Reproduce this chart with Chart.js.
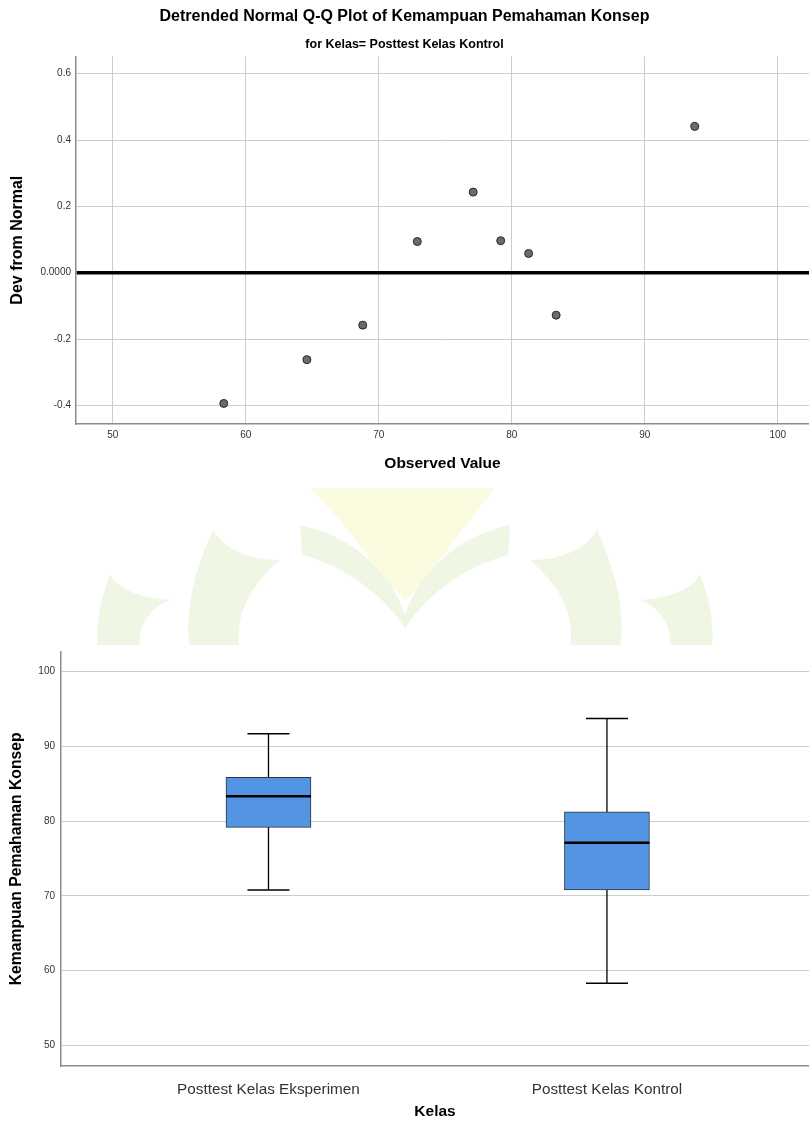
<!DOCTYPE html>
<html lang="en">
<head>
    <meta charset="UTF-8">
    <title>Detrended Normal Q-Q Plot and Boxplot</title>
    <script src="https://cdn.jsdelivr.net/npm/chart.js"></script>
    <style>
        body { margin: 0; background: #fff; }
        .page { position: relative; width: 809px; height: 1123px; overflow: hidden; }
        .page canvas { position: absolute; left: 0; }
        #qqChart { top: 0; }
        #boxChart { top: 645px; background: #fff; }
        #mark { position: absolute; left: 0; top: 480px; }
    </style>
</head>
<body>
<div class="page">
    <!-- faint logo watermark between the two charts -->
    <svg id="mark" width="809" height="170" viewBox="0 480 809 170">
        <path d="M310 488 L495 488 L470 520 L420 585 L405 600 L390 585 L340 520 Z" fill="#fbfbdf"/>
        <path d="M300 525 C350 535 390 570 405 615 C420 570 460 535 510 525 L508 555 C470 565 430 590 405 628 C380 590 340 565 302 555 Z" fill="#f0f6e4"/>
        <path d="M213 530 C190 580 185 620 190 650 L240 650 C235 620 245 590 280 560 C250 560 225 550 213 530 Z" fill="#f0f6e4"/>
        <path d="M597 530 C620 580 625 620 620 650 L570 650 C575 620 565 590 530 560 C560 560 585 550 597 530 Z" fill="#f0f6e4"/>
        <path d="M110 575 C98 605 96 630 98 650 L140 650 C138 630 145 610 170 600 C140 598 120 590 110 575 Z" fill="#f0f6e4"/>
        <path d="M700 575 C712 605 714 630 712 650 L670 650 C672 630 665 610 640 600 C670 598 690 590 700 575 Z" fill="#f0f6e4"/>
    </svg>
    <canvas id="qqChart" width="809" height="490"></canvas>
    <canvas id="boxChart" width="809" height="478"></canvas>
</div>

<script>
    // ---- data: detrended Q-Q plot ----
    const qqObserved  = [58.35, 64.6, 68.8, 72.9, 77.1, 79.17, 81.27, 83.34, 93.76];
    const qqDeviation = [-0.394, -0.262, -0.158, 0.094, 0.243, 0.0965, 0.058, -0.128, 0.441];
    const qqXTicks = [50, 60, 70, 80, 90, 100];
    const qqYTicks = [-0.4, -0.2, 0, 0.2, 0.4, 0.6];

    // ---- data: boxplot ----
    const boxCategories = ['Posttest Kelas Eksperimen', 'Posttest Kelas Kontrol'];
    const boxMin    = [70.8, 58.3];
    const boxQ1     = [79.16, 70.8];
    const boxMedian = [83.35, 77.1];
    const boxQ3     = [85.85, 81.25];
    const boxMax    = [91.69, 93.75];
    const boxYTicks = [50, 60, 70, 80, 90, 100];

    const FONT = "'Liberation Sans', Arial, sans-serif";
    const GRID = '#cccccc';
    const AXIS = '#8c8c8c';
    const TICK_TEXT = '#333333';

    Chart.defaults.font.family = FONT;
    Chart.defaults.animation = false;

    function fixTicks(values) {
        return function (scale) {
            scale.ticks = values.map(v => ({ value: v }));
        };
    }

    // keep the axis box at a fixed size and drop label overflow padding
    function fixBox(size) {
        return function (scale) {
            if (scale.isHorizontal()) scale.height = size;
            else scale.width = size;
            scale.paddingLeft = scale.paddingRight = 0;
            scale.paddingTop = scale.paddingBottom = 0;
        };
    }

    // Detrended Q-Q plot
    new Chart(document.getElementById('qqChart'), {
        type: 'scatter',
        data: {
            datasets: [{
                data: qqObserved.map((x, i) => ({ x: x, y: qqDeviation[i] })),
                backgroundColor: '#6b6b6b',
                borderColor: '#262626',
                borderWidth: 1,
                pointRadius: 4
            }]
        },
        options: {
            responsive: false,
            events: [],
            layout: { padding: 0, autoPadding: false },
            plugins: {
                legend: { display: false },
                tooltip: { enabled: false },
                title: {
                    display: true,
                    text: 'Detrended Normal Q-Q Plot of Kemampuan Pemahaman Konsep',
                    color: '#000',
                    font: { size: 16, weight: 'bold' },
                    padding: { top: 7.4, bottom: 0 }
                },
                subtitle: {
                    display: true,
                    text: 'for Kelas= Posttest Kelas Kontrol',
                    color: '#000',
                    font: { size: 12.5, weight: 'bold' },
                    padding: { top: 10.7, bottom: 4.1 }
                }
            },
            scales: {
                x: {
                    type: 'linear',
                    min: 47.24,
                    max: 102.35,
                    afterBuildTicks: fixTicks(qqXTicks),
                    afterFit: fixBox(66),
                    grid: { color: GRID, drawTicks: false },
                    border: { color: AXIS, width: 1.5 },
                    ticks: { color: TICK_TEXT, font: { size: 10 }, padding: 5 },
                    title: {
                        display: true,
                        text: 'Observed Value',
                        color: '#000',
                        font: { size: 15.5, weight: 'bold' },
                        padding: { bottom: 16.7 }
                    }
                },
                y: {
                    min: -0.456,
                    max: 0.652,
                    afterBuildTicks: fixTicks(qqYTicks),
                    afterFit: fixBox(76),
                    grid: {
                        drawTicks: false,
                        color: c => (c.tick && c.tick.value === 0) ? '#000' : GRID,
                        lineWidth: c => (c.tick && c.tick.value === 0) ? 3.5 : 1
                    },
                    border: { color: AXIS, width: 1.5 },
                    ticks: {
                        color: TICK_TEXT,
                        font: { size: 10 },
                        padding: 5,
                        callback: v => v === 0 ? '0.0000' : v.toFixed(1)
                    },
                    title: {
                        display: true,
                        text: 'Dev from Normal',
                        color: '#000',
                        font: { size: 16, weight: 'bold' },
                        padding: { top: 8 }
                    }
                }
            }
        }
    });

    // Boxplot: floating bars for the boxes, lines for whiskers, line points for caps and medians
    const pos = boxCategories.map((c, i) => i + 1);

    new Chart(document.getElementById('boxChart'), {
        type: 'bar',
        data: {
            datasets: [
                {
                    type: 'scatter',
                    order: 0,
                    data: pos.map((p, i) => ({ x: p, y: boxMedian[i] })),
                    pointStyle: 'line',
                    pointRadius: 42.5,
                    borderColor: '#000',
                    borderWidth: 2.5
                },
                {
                    type: 'scatter',
                    order: 1,
                    data: pos.flatMap((p, i) => [{ x: p, y: boxMin[i] }, { x: p, y: boxMax[i] }]),
                    pointStyle: 'line',
                    pointRadius: 21,
                    borderColor: '#000',
                    borderWidth: 1.5
                },
                {
                    type: 'bar',
                    order: 2,
                    data: pos.map((p, i) => ({ x: p, y: [boxQ1[i], boxQ3[i]] })),
                    backgroundColor: '#5394e3',
                    borderColor: '#2b3440',
                    borderWidth: 1,
                    borderSkipped: false,
                    barThickness: 85
                },
                {
                    type: 'line',
                    order: 3,
                    data: pos.flatMap((p, i) => [
                        { x: p, y: boxMin[i] }, { x: p, y: boxMax[i] }, { x: p, y: null }
                    ]),
                    borderColor: '#000',
                    borderWidth: 1.3,
                    pointRadius: 0,
                    spanGaps: false,
                    fill: false
                }
            ]
        },
        options: {
            responsive: false,
            events: [],
            layout: { padding: { top: 6.7, left: 0, right: 0, bottom: 0 }, autoPadding: false },
            plugins: {
                legend: { display: false },
                tooltip: { enabled: false }
            },
            scales: {
                x: {
                    type: 'linear',
                    min: 0.387,
                    max: 2.597,
                    offset: false,
                    afterBuildTicks: fixTicks(pos),
                    afterFit: fixBox(57),
                    grid: { display: false },
                    border: { color: AXIS, width: 1.5 },
                    ticks: {
                        color: TICK_TEXT,
                        font: { size: 15.3 },
                        padding: 7,
                        callback: v => boxCategories[v - 1] || ''
                    },
                    title: {
                        display: true,
                        text: 'Kelas',
                        color: '#000',
                        font: { size: 15.5, weight: 'bold' },
                        padding: { bottom: 2 }
                    }
                },
                y: {
                    min: 47.23,
                    max: 102.68,
                    afterBuildTicks: fixTicks(boxYTicks),
                    afterFit: fixBox(61),
                    grid: { color: GRID, drawTicks: false },
                    border: { color: AXIS, width: 1.5 },
                    ticks: { color: TICK_TEXT, font: { size: 10 }, padding: 6 },
                    title: {
                        display: true,
                        text: 'Kemampuan Pemahaman Konsep',
                        color: '#000',
                        font: { size: 15.7, weight: 'bold' },
                        padding: { top: 7.6 }
                    }
                }
            }
        }
    });
</script>
</body>
</html>
